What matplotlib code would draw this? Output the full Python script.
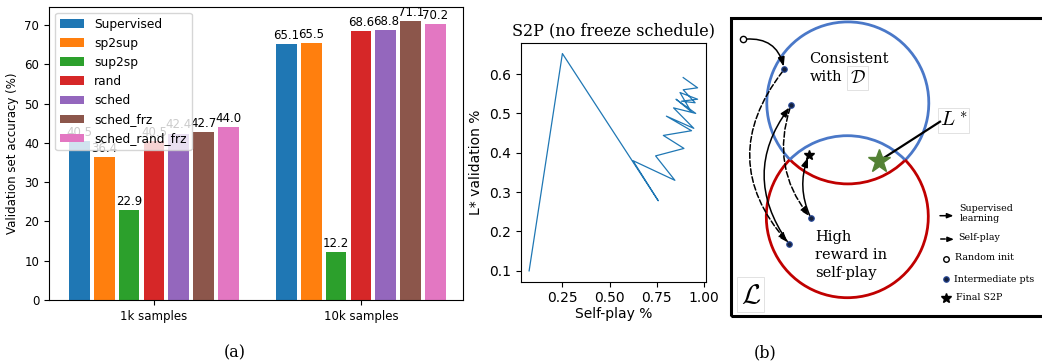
import matplotlib as mpl
mpl.use("Agg")
import matplotlib.pyplot as plt
import numpy as np
from matplotlib.patches import Arc, Rectangle, FancyArrowPatch

mpl.rcParams["mathtext.fontset"] = "cm"

# ---- panel (a): validation accuracy bars
GROUPS = ["1k samples", "10k samples"]
METHODS = ["Supervised", "sp2sup", "sup2sp", "rand", "sched", "sched_frz", "sched_rand_frz"]
ACC_1K = [40.5, 36.4, 22.9, 40.5, 42.4, 42.7, 44.0]
ACC_10K = [65.1, 65.5, 12.2, 68.6, 68.8, 71.1, 70.2]
COLORS = ["tab:blue", "tab:orange", "tab:green", "tab:red", "tab:purple", "tab:brown", "tab:pink"]

# ---- panel (a, right): S2P trajectory
SELF_PLAY = [0.074, 0.250, 0.757, 0.623, 0.845, 0.743, 0.893, 0.784, 0.933, 0.800,
             0.945, 0.838, 0.955, 0.851, 0.930, 0.872, 0.965, 0.880, 0.952, 0.889,
             0.965, 0.889]
L_VALID = [0.100, 0.652, 0.278, 0.380, 0.330, 0.392, 0.411, 0.444, 0.456, 0.493,
           0.462, 0.514, 0.500, 0.536, 0.505, 0.553, 0.536, 0.531, 0.527, 0.560,
           0.565, 0.591]

# ---- panel (b): schematic (pixel coordinates, y measured upward)
INIT_PT = (743.3, 324.7)
MID_PTS = [(784.3, 294.7), (791.0, 258.7), (811.0, 145.7), (789.3, 119.7)]
FINAL_PT = (809.0, 209.0)
LSTAR_PT = (879.0, 203.0)

BLUE = "#4a78c8"
RED = "#c00000"
GREEN = "#548235"
SERIF = "DejaVu Serif"

fig = plt.figure(figsize=(10.42, 3.64), dpi=100)

# ------------------------------------------------------------------ bars
ax1 = fig.add_axes([49 / 1042, 64 / 364, 414 / 1042, 293.3 / 364])
fs = 8.5
x = np.arange(len(GROUPS))
step, width = 0.12, 0.1
for i, (name, col) in enumerate(zip(METHODS, COLORS)):
    vals = [ACC_1K[i], ACC_10K[i]]
    bars = ax1.bar(x + (i - 3) * step, vals, width, color=col, label=name)
    ax1.bar_label(bars, labels=[f"{v:.1f}" for v in vals], padding=1.5, fontsize=fs)
ax1.set_xticks(x)
ax1.set_xticklabels(GROUPS, fontsize=fs)
ax1.set_yticks(range(0, 71, 10))
ax1.tick_params(axis="y", labelsize=fs)
ax1.set_xlim(-0.507, 1.493)
ax1.set_ylim(0, 74.7)
ax1.set_ylabel("Validation set accuracy (%)", fontsize=fs)
ax1.legend(loc="upper left", fontsize=8.8)

# ------------------------------------------------------------------ S2P line
ax2 = fig.add_axes([520.7 / 1042, 82.3 / 364, 185.3 / 1042, 239 / 364])
ax2.plot(SELF_PLAY, L_VALID, color="tab:blue", lw=0.9)
ax2.set_xticks([0.25, 0.5, 0.75, 1.0])
ax2.set_yticks([0.1, 0.2, 0.3, 0.4, 0.5, 0.6])
ax2.tick_params(labelsize=10)
ax2.set_xlabel("Self-play %", fontsize=10, labelpad=1)
ax2.set_ylabel("L* validation %", fontsize=10)
ax2.set_title("S2P (no freeze schedule)", fontsize=11.5, family=SERIF, pad=5)

# ------------------------------------------------------------------ schematic
ax3 = fig.add_axes([725 / 1042, 0, 317 / 1042, 1])
ax3.set_xlim(725, 1042)
ax3.set_ylim(0, 364)
ax3.axis("off")

ax3.add_patch(Rectangle((730.7, 48), 330, 297.7, fill=False, lw=2.2, ec="black"))

bc, rc, r = (847.8, 261.1), (847.3, 147.3), 81.0
ang = 44.7
ax3.add_patch(Arc(bc, 2 * r, 2 * r, theta1=-ang, theta2=180 + ang, color=BLUE, lw=2))
ax3.add_patch(Arc(bc, 2 * r, 2 * r, theta1=180 + ang, theta2=360 - ang, color=RED, lw=2))
ax3.add_patch(Arc(rc, 2 * r, 2 * r, theta1=180 - ang, theta2=360 + ang, color=RED, lw=2))
ax3.add_patch(Arc(rc, 2 * r, 2 * r, theta1=ang, theta2=180 - ang, color=BLUE, lw=2))

ax3.text(809.3, 304.7, "Consistent", family=SERIF, fontsize=10.5, va="center")
ax3.text(809.3, 286.7, "with", family=SERIF, fontsize=10.5, va="center")
ax3.text(857.7, 286.0, r"$\mathcal{D}$", fontsize=13, ha="center", va="center",
         bbox=dict(boxstyle="square,pad=0.15", fc="white", ec="#dddddd", lw=0.6))
for yy, s in zip([127.3, 109.0, 91.3], ["High", "reward in", "self-play"]):
    ax3.text(815, yy, s, family=SERIF, fontsize=10.5, va="center")
ax3.text(750.8, 69.3, r"$\mathcal{L}$", fontsize=20, ha="center", va="center",
         bbox=dict(boxstyle="square,pad=0.12", fc="white", ec="#dddddd", lw=0.6))
ax3.text(953.3, 243.5, r"$L^*$", fontsize=15, ha="center", va="center",
         bbox=dict(boxstyle="square,pad=0.1", fc="white", ec="#dddddd", lw=0.6))
ax3.plot([LSTAR_PT[0], 940], [LSTAR_PT[1], 242.3], color="black", lw=1.6, zorder=3)

arrow_kw = dict(arrowstyle="-|>,head_length=0.6,head_width=0.22", mutation_scale=9,
                color="black", lw=1.1, zorder=4)
paths = [
    (INIT_PT, MID_PTS[0], -0.45, "solid"),
    (MID_PTS[0], MID_PTS[3], 0.42, "dashed"),
    (MID_PTS[3], MID_PTS[1], -0.37, "solid"),
    (MID_PTS[1], MID_PTS[2], 0.28, "dashed"),
    (MID_PTS[2], FINAL_PT, -0.22, "solid"),
]
for a, b, rad, ls in paths:
    ax3.add_patch(FancyArrowPatch(a, b, connectionstyle=f"arc3,rad={rad}",
                                  linestyle=ls, shrinkA=2, shrinkB=2, **arrow_kw))

ax3.plot(*INIT_PT, "o", ms=4.5, mfc="white", mec="black", mew=1, zorder=5)
for p in MID_PTS:
    ax3.plot(*p, "o", ms=4, mfc="#14213d", mec="#2b4c9b", mew=0.8, zorder=5)
ax3.plot(*FINAL_PT, "*", ms=7, color="black", zorder=5)
ax3.plot(*LSTAR_PT, "*", ms=17, color=GREEN, zorder=5)

# schematic legend
leg_fs = 6.8
small_arrow = dict(arrowstyle="-|>,head_length=0.45,head_width=0.18", mutation_scale=8,
                   color="black", lw=1.1, shrinkA=0, shrinkB=0)
ax3.add_patch(FancyArrowPatch((940.0, 148.3), (953.5, 148.3), **small_arrow))
ax3.plot([940.5, 944.5], [124.7, 124.7], color="black", lw=1.1)
ax3.add_patch(FancyArrowPatch((947.0, 124.7), (954.0, 124.7), **small_arrow))
ax3.plot(945.7, 105.0, "o", ms=4, mfc="white", mec="black", mew=1)
ax3.plot(946.0, 84.7, "o", ms=4, mfc="#14213d", mec="#2b4c9b", mew=0.8)
ax3.plot(946.0, 65.7, "*", ms=7, color="black")
ax3.text(959.3, 150.5, "Supervised\nlearning", family=SERIF, fontsize=leg_fs, va="center",
         linespacing=1.15)
ax3.text(958.7, 126.3, "Self-play", family=SERIF, fontsize=leg_fs, va="center")
ax3.text(955.0, 106.7, "Random init", family=SERIF, fontsize=leg_fs, va="center")
ax3.text(954.3, 85.0, "Intermediate pts", family=SERIF, fontsize=leg_fs, va="center")
ax3.text(956.0, 66.3, "Final S2P", family=SERIF, fontsize=leg_fs, va="center")

# captions
fig.text(235 / 1042, 11 / 364, "(a)", family=SERIF, fontsize=11.5, ha="center", va="center")
fig.text(765 / 1042, 11 / 364, "(b)", family=SERIF, fontsize=11.5, ha="center", va="center")

fig.savefig("out.png", dpi=100, facecolor="white")
